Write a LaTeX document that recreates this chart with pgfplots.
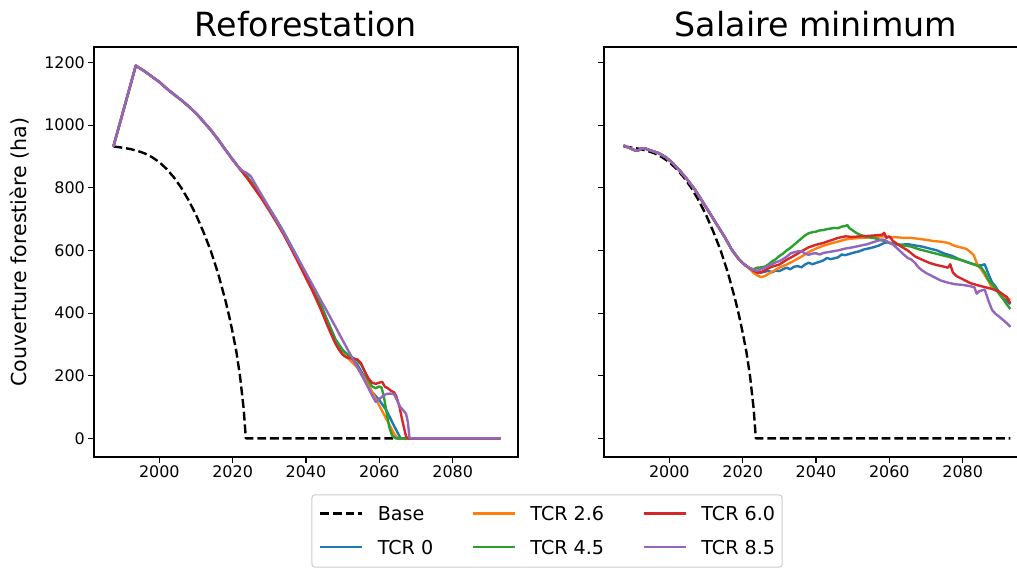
\documentclass[border=0pt]{standalone}
\usepackage{fontspec}
\setmainfont{DejaVu Sans}
\usepackage{pgfplots}
\pgfplotsset{compat=1.18}
\definecolor{c0}{HTML}{1F77B4}
\definecolor{c1}{HTML}{FF7F0E}
\definecolor{c2}{HTML}{2CA02C}
\definecolor{c3}{HTML}{D62728}
\definecolor{c4}{HTML}{9467BD}
\pgfplotsset{
  myaxis/.style={
    scale only axis, width=424bp, height=410bp,
    xmin=1982.2, xmax=2097.8, ymin=-59.5, ymax=1249.5,
    xtick={2000,2020,2040,2060,2080}, ytick={0,200,400,600,800,1000,1200},
    tick align=outside, tick pos=left,
    major tick length=5.6bp,
    tick style={black, line width=1.1bp},
    axis line style={line width=1.1bp},
    tick label style={font=\fontsize{16}{19}\selectfont, black},
    /pgf/number format/assume math mode=true,
    /pgf/number format/1000 sep={},
    title style={font=\fontsize{33.4}{40}\selectfont, at={(0.5,1)}, anchor=base, yshift=5bp},
    every axis plot/.append style={line width=2.4bp, line join=round},
    legend image code/.code={\draw[#1] (0bp,7bp) -- (42bp,7bp); \path[draw=none] (0bp,0bp) -- (57.6bp,0bp);},
  },
  basestyle/.style={black, line width=2.4bp, dash pattern=on 8.9bp off 3.8bp},
}
\begin{document}
\begin{tikzpicture}
\begin{axis}[myaxis, at={(94bp,-457bp)}, anchor=south west,
  title={Reforestation},
  ylabel={Couverture forestière (ha)},
  every axis y label/.style={at={(axis description cs:-0.1745,0.5)}, rotate=90, anchor=center, font=\fontsize{20.7}{25}\selectfont},
  legend columns=3,
  legend style={at={(1.0684,-0.1805)}, anchor=center,
    draw=black!20, line width=1bp, rounded corners=3bp,
    font=\fontsize{19.2}{23}\selectfont,
    nodes={inner sep=0pt, anchor=base west},
    column sep=0pt, row sep=18bp,
    inner xsep=7bp, inner ysep=11.5bp},
]
\addplot[basestyle, forget plot] coordinates {(1987.5,932) (1990,928) (1992,924) (1994,918) (1996,910) (1998,898) (2000,882) (2002,860) (2004,833) (2006,800) (2008,760) (2010,714) (2012,660) (2014,600) (2016,528) (2018,442) (2019,393) (2020,338) (2021,278) (2022,200) (2023,95) (2023.6,0) (2093,0)};
\addplot[c0, forget plot] coordinates {(1987.5,932) (1993.6,1190) (1996,1172) (1998,1155) (2000,1138) (2002,1117) (2004,1098) (2006,1080) (2008,1060) (2010,1038) (2012,1012) (2014,985) (2016,955) (2018,922) (2020,890) (2022,860) (2024,835) (2026,803) (2028,770) (2030,735) (2032,697) (2034,657) (2036,614) (2038,570) (2040,524) (2042,478) (2044,428) (2046,372) (2048,317) (2050,282) (2052,260) (2054,235) (2056,195) (2058,148) (2060,122) (2062,88) (2064,40) (2065.8,0) (2093,0)};
\addplot[c1, forget plot] coordinates {(1987.5,932) (1993.6,1190) (1996,1172) (1998,1155) (2000,1138) (2002,1117) (2004,1098) (2006,1080) (2008,1060) (2010,1038) (2012,1012) (2014,985) (2016,955) (2018,922) (2020,890) (2022,860) (2024,832) (2026,799) (2028,765) (2030,728) (2032,690) (2034,650) (2036,606) (2038,560) (2040,513) (2042,466) (2044,415) (2046,358) (2048,304) (2050,268) (2051,260) (2052,250) (2054,226) (2056,190) (2058,148) (2060,104) (2062,60) (2064,15) (2065,0) (2093,0)};
\addplot[c2, forget plot] coordinates {(1987.5,932) (1993.6,1190) (1996,1172) (1998,1155) (2000,1138) (2002,1117) (2004,1098) (2006,1080) (2008,1060) (2010,1038) (2012,1012) (2014,985) (2016,955) (2018,922) (2020,890) (2022,860) (2024,834) (2026,802) (2028,769) (2030,734) (2032,696) (2034,656) (2036,612) (2038,568) (2040,522) (2042,476) (2044,425) (2046,369) (2048,314) (2050,280) (2052,262) (2053,256) (2054,248) (2055,236) (2056,214) (2057,186) (2058,166) (2059,160) (2060,166) (2060.6,162) (2061.2,135) (2062,80) (2062.7,36) (2063.5,8) (2064.5,0) (2093,0)};
\addplot[c3, forget plot] coordinates {(1987.5,932) (1993.6,1190) (1996,1172) (1998,1155) (2000,1138) (2002,1117) (2004,1098) (2006,1080) (2008,1060) (2010,1038) (2012,1012) (2014,985) (2016,955) (2018,922) (2020,890) (2022,860) (2024,830) (2026,797) (2028,764) (2030,727) (2032,689) (2034,649) (2036,605) (2038,559) (2040,512) (2042,465) (2044,413) (2046,356) (2048,303) (2049,283) (2050,267) (2051,259) (2052,256) (2053,254) (2054,252) (2055,240) (2056,214) (2057,192) (2058,178) (2059,174) (2060,178) (2060.8,180) (2061.5,165) (2062.3,160) (2063.2,152) (2064,147) (2064.6,135) (2065.5,100) (2066.3,55) (2067.3,5) (2067.8,0) (2093,0)};
\addplot[c4, forget plot] coordinates {(1987.5,932) (1993.6,1190) (1996,1172) (1998,1155) (2000,1138) (2002,1117) (2004,1098) (2006,1080) (2008,1060) (2010,1038) (2012,1012) (2014,985) (2016,955) (2018,922) (2020,890) (2022,860) (2023,852) (2024,846) (2025,836) (2026,815) (2028,775) (2030,735) (2032,695) (2034,655) (2036,612) (2038,570) (2040,528) (2042,485) (2044,442) (2046,400) (2048,357) (2050,313) (2052,270) (2054,227) (2056,184) (2058,138) (2059,117) (2060,125) (2061,136) (2062,142) (2063,143) (2064,141) (2064.9,120) (2065.7,100) (2066.5,90) (2067.3,78) (2067.8,50) (2068.2,3) (2068.6,0) (2093,0)};
\addlegendimage{basestyle}
\addlegendimage{c1, line width=2.4bp}
\addlegendimage{c3, line width=2.4bp}
\addlegendimage{c0, line width=2.4bp}
\addlegendimage{c2, line width=2.4bp}
\addlegendimage{c4, line width=2.4bp}
\legend{Base\hspace*{38.4bp}, TCR 2.6\hspace*{38.4bp}, TCR 6.0, TCR 0\hspace*{38.4bp}, TCR 4.5\hspace*{38.4bp}, TCR 8.5}
\end{axis}
\begin{axis}[myaxis, at={(604bp,-457bp)}, anchor=south west,
  title={Salaire minimum}, yticklabels={}]
\addplot[basestyle] coordinates {(1987.5,932) (1990,928) (1992,924) (1994,918) (1996,910) (1998,898) (2000,882) (2002,860) (2004,833) (2006,800) (2008,760) (2010,714) (2012,660) (2014,600) (2016,528) (2018,442) (2019,393) (2020,338) (2021,278) (2022,200) (2023,95) (2023.6,0) (2093,0)};
\addplot[c0] coordinates {(1987.5,935) (1989,928) (1990.5,920) (1991.5,919) (1992.5,926) (1993.5,925) (1995,919) (1997,911) (1999,898) (2001,878) (2003,853) (2005,825) (2007,794) (2009,757) (2011,720) (2013,682) (2015,645) (2017,603) (2018,587) (2019,572) (2020,560) (2021,550) (2022,543) (2023,537) (2024,532) (2025,529) (2026,532) (2027,535) (2028,530) (2029,536) (2030,534) (2031,540) (2032,545) (2033,540) (2034,548) (2035,550) (2036,546) (2037,555) (2038,561) (2039,556) (2040,560) (2042,568) (2043,576) (2044,572) (2046,578) (2047,587) (2048,585) (2050,592) (2052,598) (2053,603) (2055,608) (2057,615) (2058.6,624) (2059.5,626) (2061,620) (2063,618) (2065,620) (2067,616) (2069,612) (2071,606) (2073,600) (2075,590) (2077,583) (2079,572) (2081,563) (2083,556) (2085,552) (2086,556) (2087,525) (2088,498) (2089,484) (2090,465) (2091,450) (2092,440) (2093,428)};
\addplot[c1] coordinates {(1987.5,935) (1989,928) (1990.5,920) (1991.5,919) (1992.5,926) (1993.5,925) (1995,919) (1997,911) (1999,898) (2001,878) (2003,853) (2005,825) (2007,794) (2009,757) (2011,720) (2013,682) (2015,645) (2017,603) (2018,587) (2019,572) (2020,560) (2021,550) (2022,540) (2023,528) (2024,520) (2025,515) (2026,518) (2027,525) (2028,532) (2030,545) (2032,555) (2034,567) (2036,580) (2038,595) (2040,606) (2042,615) (2044,622) (2046,628) (2048,635) (2050,638) (2052,640) (2054,641) (2056,643) (2058,645) (2060,643) (2062,642) (2064,640) (2066,640) (2068,637) (2070,634) (2072,630) (2074,628) (2076,624) (2078,614) (2080,608) (2081,605) (2082,596) (2083,585) (2084,555) (2085,540) (2086,522) (2087,503) (2088,480) (2089,474) (2090,465) (2091,455) (2092,448) (2093,442)};
\addplot[c2] coordinates {(1987.5,935) (1989,928) (1990.5,920) (1991.5,919) (1992.5,926) (1993.5,925) (1995,919) (1997,911) (1999,898) (2001,878) (2003,853) (2005,825) (2007,794) (2009,757) (2011,720) (2013,682) (2015,645) (2017,603) (2018,587) (2019,572) (2020,560) (2021,550) (2022,543) (2023,540) (2024,545) (2025,546) (2026,548) (2027,555) (2028,565) (2029,572) (2030,582) (2031,590) (2032,600) (2033,608) (2034,618) (2035,628) (2036,638) (2037,648) (2038,655) (2039,658) (2040,660) (2041,664) (2042,665) (2043,668) (2044,670) (2045,672) (2046,671) (2047,676) (2048,678) (2048.6,681) (2049,672) (2050,664) (2051,656) (2052,650) (2053,646) (2054,643) (2055,641) (2056,639) (2058,632) (2060,625) (2062,620) (2064,616) (2066,612) (2068,604) (2070,598) (2072,592) (2074,586) (2076,580) (2078,574) (2080,568) (2082,560) (2084,551) (2085,546) (2086,530) (2087,505) (2088,492) (2089,478) (2090,460) (2091,445) (2092,428) (2093,413)};
\addplot[c3] coordinates {(1987.5,935) (1989,928) (1990.5,920) (1991.5,919) (1992.5,926) (1993.5,925) (1995,919) (1997,911) (1999,898) (2001,878) (2003,853) (2005,825) (2007,794) (2009,757) (2011,720) (2013,682) (2015,645) (2017,603) (2018,587) (2019,572) (2020,560) (2021,550) (2022,543) (2023,535) (2024,529) (2025,530) (2026,536) (2027,543) (2028,548) (2030,555) (2032,570) (2034,583) (2036,597) (2038,610) (2040,618) (2042,624) (2044,632) (2046,640) (2048,645) (2050,643) (2052,645) (2054,646) (2056,648) (2058,650) (2058.6,656) (2059.2,640) (2060,645) (2061,630) (2062,622) (2063,614) (2065,600) (2067,581) (2069,570) (2071,560) (2073,553) (2075,548) (2076,545) (2076.6,556) (2077.3,530) (2078.3,518) (2080,508) (2082,496) (2084,489) (2086,483) (2088,477) (2090,468) (2091.4,456) (2092,452) (2092.5,440) (2093,432)};
\addplot[c4] coordinates {(1987.5,935) (1989,928) (1990.5,920) (1991.5,919) (1992.5,926) (1993.5,925) (1995,919) (1997,911) (1999,898) (2001,878) (2003,853) (2005,825) (2007,794) (2009,757) (2011,720) (2013,682) (2015,645) (2017,603) (2018,587) (2019,572) (2020,560) (2021,550) (2022,543) (2023,538) (2024,535) (2025,540) (2026,545) (2027,550) (2028,556) (2029,562) (2030,566) (2031,572) (2032,580) (2033,590) (2034,594) (2035,597) (2036,598) (2037,590) (2038,586) (2039,590) (2040,591) (2041,587) (2042,592) (2044,596) (2046,600) (2048,606) (2050,610) (2052,615) (2054,620) (2056,628) (2058,635) (2059,632) (2060,624) (2061,619) (2062,608) (2063,597) (2064,586) (2065,576) (2066,571) (2067,560) (2068,545) (2069,536) (2070,528) (2072,516) (2074,504) (2076,497) (2078,492) (2080,490) (2082,486) (2083.2,482) (2083.8,462) (2084.5,470) (2086,475) (2087,440) (2088,410) (2089,397) (2090,388) (2091,378) (2092,368) (2093,356)};
\end{axis}
\pgfresetboundingbox
\useasboundingbox (0bp,0bp) rectangle (1017bp,-568bp);
\end{tikzpicture}
\end{document}
